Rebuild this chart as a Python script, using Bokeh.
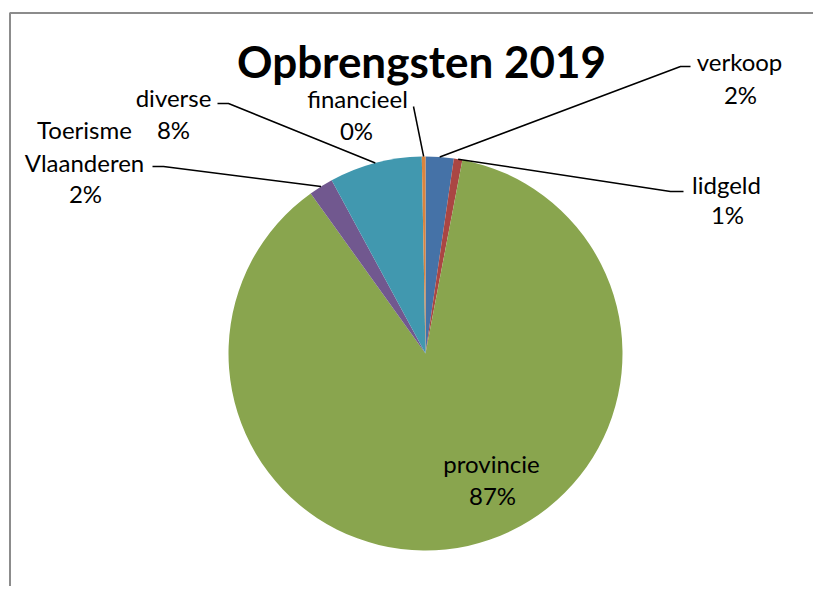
import math
from bokeh.plotting import figure
from bokeh.models import Range1d
from bokeh.core.properties import value
from bokeh.embed import file_html
from bokeh.resources import INLINE

# ---- data ----
categories = ["verkoop", "lidgeld", "provincie", "Toerisme Vlaanderen", "diverse", "financieel"]
shares = [2.3, 0.7, 87.1, 2.0, 7.6, 0.3]
pct_labels = ["2%", "1%", "87%", "2%", "8%", "0%"]
colors = ["#4572A7", "#AA4643", "#89A54E", "#71588F", "#4198AF", "#DB843D"]
title = "Opbrengsten 2019"

W, H = 813, 586


def P(x, y):
    """picture pixel -> data coords"""
    return x, H - y


p = figure(width=W, height=H, output_backend="svg", toolbar_location=None,
           x_range=Range1d(0, W), y_range=Range1d(0, H), min_border=0)
p.axis.visible = False
p.grid.visible = False
p.outline_line_color = None
p.background_fill_color = "white"
p.border_fill_color = "white"

# chart frame (left & top visible)
fx, fy = P(9.5, 12.5)
p.line([fx, fx, W + 20], [-20, fy, fy], line_color="#8c8c8c", line_width=2)

# pie
cx, cy = P(425, 353)
R = 197
total = sum(shares)
cum = 0.0
starts, ends, mids = [], [], []
for s in shares:
    a0 = math.pi / 2 - cum / total * 2 * math.pi
    cum += s
    a1 = math.pi / 2 - cum / total * 2 * math.pi
    starts.append(a0)
    ends.append(a1)
    mids.append((a0 + a1) / 2)

p.wedge(x=[cx] * len(shares), y=[cy] * len(shares), radius=R,
        start_angle=starts, end_angle=ends, direction="clock",
        fill_color=colors, line_color=None)

# leader lines: (elbow, end) in picture coords
leaders = {
    0: [(680, 66), (690, 66)],
    1: [(670, 191), (683, 191)],
    5: [(413, 106)],
    4: [(228, 103), (217, 103)],
    3: [(163, 166), (152, 166)],
}
for i, pts in leaders.items():
    sx = cx + R * math.cos(mids[i])
    sy = cy + R * math.sin(mids[i])
    xs = [sx] + [P(*q)[0] for q in pts]
    ys = [sy] + [P(*q)[1] for q in pts]
    p.line(xs, ys, line_color="black", line_width=1.5)

# labels: lines of text with picture-center positions
label_lines = {
    0: [(categories[0], 739, 61), (pct_labels[0], 740, 94)],
    1: [(categories[1], 726, 184), (pct_labels[1], 727, 214)],
    2: [(categories[2], 491, 463), (pct_labels[2], 492, 495)],
    3: [("Toerisme", 84, 129), ("Vlaanderen", 84, 162), (pct_labels[3], 85, 193)],
    4: [(categories[4], 173, 97), (pct_labels[4], 173, 129)],
    5: [(categories[5], 357, 98), (pct_labels[5], 356, 130)],
}
tx, ty, tt = [], [], []
for i, items in label_lines.items():
    for t, x, y in items:
        dx, dy = P(x, y)
        tx.append(dx)
        ty.append(dy)
        tt.append(t)
p.text(x=tx, y=ty, text=tt, text_align="center", text_baseline="middle",
       text_font=value("Lato"), text_font_size="24px", text_color="black")

# title
ttx, tty = P(421, 60)
p.text(x=[ttx], y=[tty], text=[title], text_align="center", text_baseline="middle",
       text_font=value("Lato"), text_font_style="bold", text_font_size="44px",
       text_color="black")

open("out.html", "w").write(file_html(p, INLINE))
